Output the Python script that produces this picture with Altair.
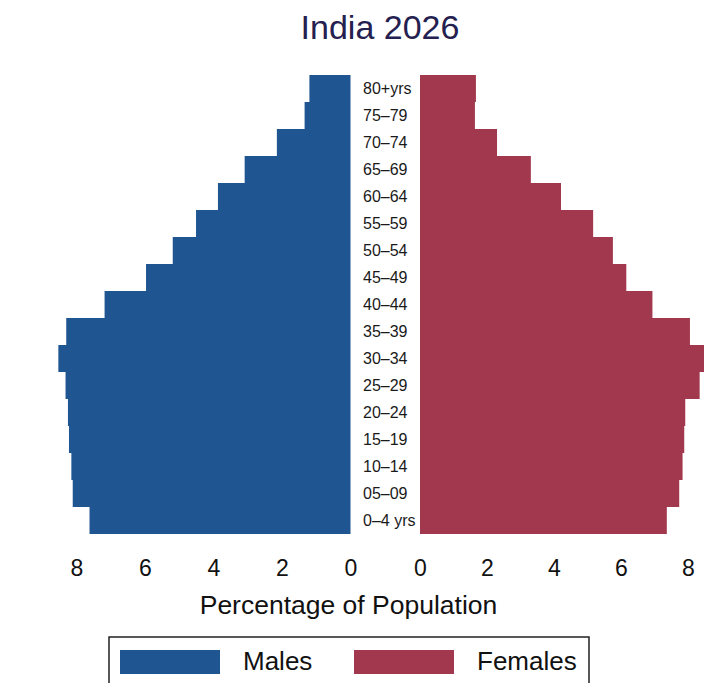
import altair as alt
import pandas as pd

ages = ["80+yrs", "75–79", "70–74", "65–69", "60–64", "55–59", "50–54", "45–49",
        "40–44", "35–39", "30–34", "25–29", "20–24", "15–19", "10–14", "05–09", "0–4 yrs"]
males = [1.20, 1.34, 2.15, 3.09, 3.87, 4.51, 5.19, 5.97, 7.18, 8.30, 8.53, 8.32, 8.25,
         8.22, 8.15, 8.11, 7.62]
females = [1.67, 1.64, 2.30, 3.31, 4.21, 5.17, 5.76, 6.16, 6.94, 8.06, 8.48, 8.35, 7.92,
           7.89, 7.84, 7.74, 7.37]
sexes = ["Males", "Females"]
colors = ["#1f5591", "#a1384d"]
tick_values = [0, 2, 4, 6, 8]

FONT = "Liberation Sans"
H = 459

df_m = pd.DataFrame({"age": ages, "pct": males, "sex": sexes[0]})
df_f = pd.DataFrame({"age": ages, "pct": females, "sex": sexes[1]})
df_l = pd.DataFrame({"age": ages})

y_enc = alt.Y("age:N", sort=ages, axis=None,
              scale=alt.Scale(paddingInner=0, paddingOuter=0))

legend = alt.Legend(
    title=None, orient="none", legendX=101, legendY=562, direction="horizontal",
    symbolType="M-4.1667,-1L4.1667,-1L4.1667,1L-4.1667,1Z", symbolSize=576,
    symbolStrokeWidth=0, symbolOpacity=1, symbolOffset=36, labelOffset=60,
    columnPadding=40, labelFontSize=26, labelFont=FONT, labelColor="#111111",
    labelLimit=0, padding=12, strokeColor="#222222",
)
color_enc = alt.Color("sex:N", scale=alt.Scale(domain=sexes, range=colors), legend=legend)

axis_common = dict(values=tick_values, grid=False, domain=False, ticks=False, tickSize=0,
                   labelFontSize=23, labelFont=FONT, labelPadding=41,
                   labelBaseline="alphabetic", labelColor="#111111", labelFlush=False,
                   labelOverlap=False)

left = alt.Chart(df_m).mark_bar().encode(
    x=alt.X("pct:Q", scale=alt.Scale(domain=[0, 10], reverse=True, nice=False),
            axis=alt.Axis(title="Percentage of Population", titleFontSize=26.5,
                          titleFont=FONT, titleFontWeight="normal", titleColor="#111111",
                          titleX=340, titleY=79, titleBaseline="alphabetic",
                          titleAlign="center", **axis_common)),
    y=y_enc,
    color=color_enc,
).properties(width=342.5, height=H)

mid = alt.Chart(df_l).mark_text(align="left", baseline="middle", fontSize=16,
                                font=FONT, color="#1a1a1a").encode(
    y=y_enc,
    x=alt.value(12),
    text="age:N",
).properties(width=69, height=H)

right = alt.Chart(df_f).mark_bar().encode(
    x=alt.X("pct:Q", scale=alt.Scale(domain=[0, 8.48], nice=False),
            axis=alt.Axis(title=None, **axis_common)),
    y=y_enc,
    color=color_enc,
).properties(width=284, height=H)

chart = alt.hconcat(left, mid, right, spacing=0, bounds="flush").resolve_scale(
    color="shared"
).resolve_legend(color="shared").properties(
    title=alt.Title("India 2026", fontSize=34, font=FONT, fontWeight="normal",
                    color="#24204f", anchor="middle", dx=24, offset=29),
    padding={"left": 0, "top": 4, "right": 0, "bottom": 0},
).configure_view(strokeWidth=0).configure_legend(strokeWidth=1.5)

chart.save("out.html", embed_options={"renderer": "svg", "actions": False})
